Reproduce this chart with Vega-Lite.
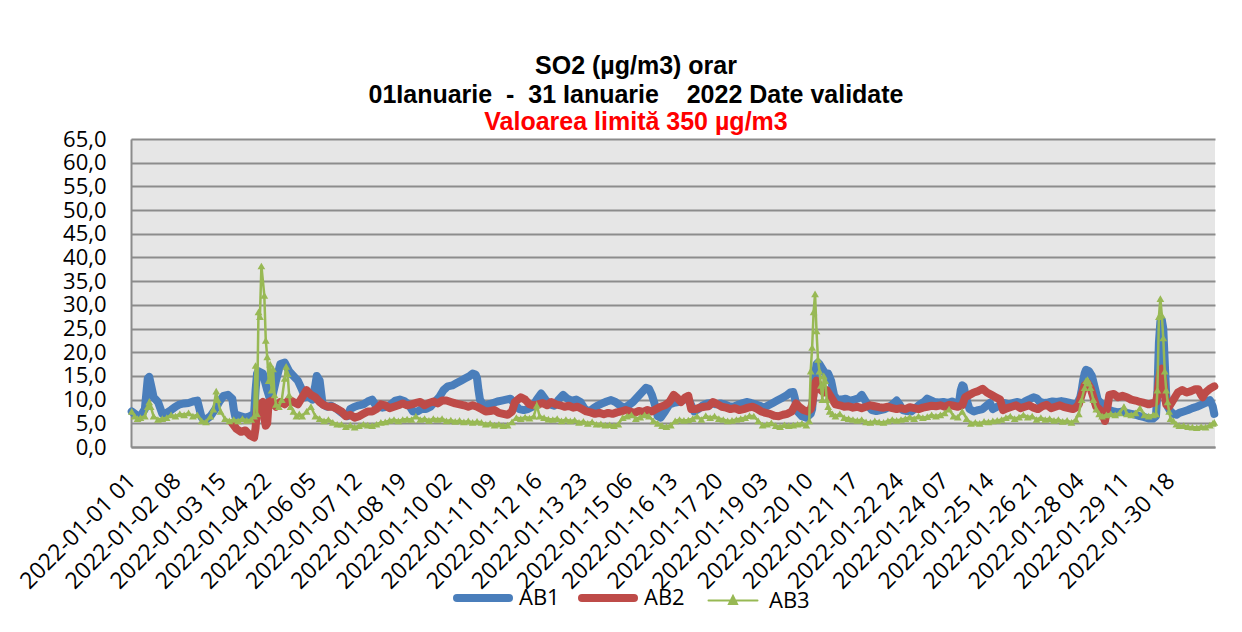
{
"$schema": "https://vega.github.io/schema/vega-lite/v6.json",
"width": 1084, "height": 308,
"autosize": {"type": "none"},
"padding": {"left": 131, "top": 139, "right": 27, "bottom": 185},
"background": "white",
"config": {"view": {"fill": "#E6E6E6", "stroke": null}, "font": "Open Sans"},
"title": {"text": ["SO2 (µg/m3) orar", "01Ianuarie\u00a0 -\u00a0 31 Ianuarie\u00a0\u00a0\u00a0 2022 Date validate"], "subtitle": "Valoarea limită 350 µg/m3", "font": "Liberation Sans", "fontSize": 25, "fontWeight": "bold", "color": "black", "lineHeight": 29, "subtitleFont": "Liberation Sans", "subtitleFontSize": 25, "subtitleFontWeight": "bold", "subtitleColor": "#FF0000", "subtitlePadding": 2, "anchor": "middle", "frame": "group", "dx": -37, "offset": -7},
"data": {"values": [
{"s":"AB1","h":1,"v":7.5},{"s":"AB1","h":4,"v":6.8},{"s":"AB1","h":7,"v":6.5},{"s":"AB1","h":10,"v":8},{"s":"AB1","h":12,"v":14.5},{"s":"AB1","h":13,"v":14.8},{"s":"AB1","h":15,"v":12},{"s":"AB1","h":16,"v":10.5},{"s":"AB1","h":19,"v":9.5},{"s":"AB1","h":22,"v":7},
{"s":"AB1","h":25,"v":7.2},{"s":"AB1","h":28,"v":7.8},{"s":"AB1","h":31,"v":8.5},{"s":"AB1","h":34,"v":9},{"s":"AB1","h":37,"v":9.2},{"s":"AB1","h":40,"v":9.3},{"s":"AB1","h":43,"v":9.6},{"s":"AB1","h":46,"v":9.8},
{"s":"AB1","h":49,"v":6.2},{"s":"AB1","h":52,"v":5.8},{"s":"AB1","h":55,"v":6.5},{"s":"AB1","h":58,"v":7.8},{"s":"AB1","h":61,"v":9.5},{"s":"AB1","h":64,"v":10.8},{"s":"AB1","h":67,"v":11},{"s":"AB1","h":70,"v":10.2},{"s":"AB1","h":71,"v":8},{"s":"AB1","h":72,"v":6.5},
{"s":"AB1","h":73,"v":6.8},{"s":"AB1","h":76,"v":6.5},{"s":"AB1","h":79,"v":6.2},{"s":"AB1","h":82,"v":6.5},{"s":"AB1","h":85,"v":7},{"s":"AB1","h":86,"v":12},{"s":"AB1","h":87,"v":15.5},{"s":"AB1","h":88,"v":16},{"s":"AB1","h":91,"v":15.5},{"s":"AB1","h":94,"v":12},{"s":"AB1","h":96,"v":10},
{"s":"AB1","h":97,"v":10},{"s":"AB1","h":100,"v":14},{"s":"AB1","h":103,"v":17.5},{"s":"AB1","h":106,"v":17.8},{"s":"AB1","h":109,"v":16},{"s":"AB1","h":112,"v":15},{"s":"AB1","h":115,"v":14},{"s":"AB1","h":118,"v":12},{"s":"AB1","h":120,"v":10.5},
{"s":"AB1","h":121,"v":11},{"s":"AB1","h":123,"v":10.5},{"s":"AB1","h":125,"v":10},{"s":"AB1","h":127,"v":13},{"s":"AB1","h":128,"v":15},{"s":"AB1","h":130,"v":14},{"s":"AB1","h":132,"v":9},{"s":"AB1","h":135,"v":8.5},{"s":"AB1","h":138,"v":8.7},{"s":"AB1","h":141,"v":8.2},{"s":"AB1","h":144,"v":7.5},
{"s":"AB1","h":147,"v":6.8},{"s":"AB1","h":149,"v":6.5},{"s":"AB1","h":151,"v":8},{"s":"AB1","h":154,"v":8.5},{"s":"AB1","h":157,"v":8.8},{"s":"AB1","h":160,"v":9},{"s":"AB1","h":163,"v":9.6},{"s":"AB1","h":166,"v":10},{"s":"AB1","h":168,"v":9},
{"s":"AB1","h":170,"v":8.5},{"s":"AB1","h":173,"v":8.3},{"s":"AB1","h":176,"v":8.5},{"s":"AB1","h":179,"v":9},{"s":"AB1","h":182,"v":9.8},{"s":"AB1","h":185,"v":10},{"s":"AB1","h":188,"v":9.7},{"s":"AB1","h":191,"v":9},
{"s":"AB1","h":194,"v":7.5},{"s":"AB1","h":197,"v":7.5},{"s":"AB1","h":200,"v":8},{"s":"AB1","h":203,"v":8},{"s":"AB1","h":206,"v":8.5},{"s":"AB1","h":209,"v":9.5},{"s":"AB1","h":212,"v":10.5},{"s":"AB1","h":215,"v":12},
{"s":"AB1","h":218,"v":12.8},{"s":"AB1","h":221,"v":13},{"s":"AB1","h":224,"v":13.5},{"s":"AB1","h":227,"v":14},{"s":"AB1","h":230,"v":14.5},{"s":"AB1","h":233,"v":15},{"s":"AB1","h":235,"v":15.5},{"s":"AB1","h":237,"v":15.3},{"s":"AB1","h":238,"v":14.5},{"s":"AB1","h":239,"v":12},{"s":"AB1","h":240,"v":10},
{"s":"AB1","h":243,"v":8.5},{"s":"AB1","h":246,"v":9},{"s":"AB1","h":249,"v":9.3},{"s":"AB1","h":252,"v":9.6},{"s":"AB1","h":255,"v":9.8},{"s":"AB1","h":258,"v":10},{"s":"AB1","h":261,"v":10.2},{"s":"AB1","h":264,"v":9},
{"s":"AB1","h":267,"v":8},{"s":"AB1","h":270,"v":7.8},{"s":"AB1","h":273,"v":8},{"s":"AB1","h":276,"v":8.5},{"s":"AB1","h":279,"v":10},{"s":"AB1","h":282,"v":11.3},{"s":"AB1","h":285,"v":10},{"s":"AB1","h":288,"v":9},
{"s":"AB1","h":291,"v":8.7},{"s":"AB1","h":294,"v":10},{"s":"AB1","h":297,"v":11},{"s":"AB1","h":300,"v":10.2},{"s":"AB1","h":303,"v":9.8},{"s":"AB1","h":306,"v":10},{"s":"AB1","h":309,"v":9.5},{"s":"AB1","h":312,"v":8},
{"s":"AB1","h":315,"v":7.5},{"s":"AB1","h":318,"v":8.2},{"s":"AB1","h":321,"v":8.8},{"s":"AB1","h":324,"v":9.2},{"s":"AB1","h":327,"v":9.6},{"s":"AB1","h":330,"v":9.9},{"s":"AB1","h":333,"v":9.5},{"s":"AB1","h":336,"v":8.8},
{"s":"AB1","h":339,"v":8.3},{"s":"AB1","h":342,"v":8.8},{"s":"AB1","h":345,"v":9.5},{"s":"AB1","h":348,"v":10.5},{"s":"AB1","h":351,"v":11.5},{"s":"AB1","h":354,"v":12.5},{"s":"AB1","h":356,"v":12.3},{"s":"AB1","h":358,"v":11},{"s":"AB1","h":360,"v":9},
{"s":"AB1","h":362,"v":6.5},{"s":"AB1","h":364,"v":6.2},{"s":"AB1","h":367,"v":7.5},{"s":"AB1","h":370,"v":9},{"s":"AB1","h":373,"v":9.3},{"s":"AB1","h":376,"v":9.5},{"s":"AB1","h":379,"v":9.8},{"s":"AB1","h":382,"v":10.3},{"s":"AB1","h":384,"v":9.5},
{"s":"AB1","h":387,"v":7.5},{"s":"AB1","h":390,"v":8},{"s":"AB1","h":393,"v":8.8},{"s":"AB1","h":396,"v":9.2},{"s":"AB1","h":399,"v":9.3},{"s":"AB1","h":402,"v":9},{"s":"AB1","h":405,"v":9.2},{"s":"AB1","h":408,"v":9},
{"s":"AB1","h":411,"v":8.6},{"s":"AB1","h":414,"v":8.5},{"s":"AB1","h":417,"v":8.9},{"s":"AB1","h":420,"v":9.2},{"s":"AB1","h":423,"v":9.5},{"s":"AB1","h":426,"v":9.3},{"s":"AB1","h":429,"v":9},{"s":"AB1","h":432,"v":8.7},
{"s":"AB1","h":435,"v":8.3},{"s":"AB1","h":438,"v":8.8},{"s":"AB1","h":441,"v":9.3},{"s":"AB1","h":444,"v":9.8},{"s":"AB1","h":447,"v":10.3},{"s":"AB1","h":450,"v":10.8},{"s":"AB1","h":453,"v":11.5},{"s":"AB1","h":455,"v":11.6},{"s":"AB1","h":456,"v":10.5},
{"s":"AB1","h":458,"v":7.5},{"s":"AB1","h":461,"v":6.5},{"s":"AB1","h":464,"v":6.2},{"s":"AB1","h":467,"v":7},{"s":"AB1","h":468,"v":8},{"s":"AB1","h":469,"v":12},{"s":"AB1","h":470,"v":15},{"s":"AB1","h":471,"v":17.5},{"s":"AB1","h":472,"v":17.8},{"s":"AB1","h":473,"v":17.5},{"s":"AB1","h":475,"v":16.5},{"s":"AB1","h":477,"v":15.5},{"s":"AB1","h":479,"v":15.5},{"s":"AB1","h":481,"v":14},
{"s":"AB1","h":483,"v":11},{"s":"AB1","h":485,"v":10},{"s":"AB1","h":488,"v":10},{"s":"AB1","h":491,"v":10.2},{"s":"AB1","h":494,"v":9.8},{"s":"AB1","h":497,"v":10},{"s":"AB1","h":500,"v":10.3},{"s":"AB1","h":502,"v":11},{"s":"AB1","h":504,"v":10},
{"s":"AB1","h":507,"v":8.5},{"s":"AB1","h":509,"v":7.8},{"s":"AB1","h":512,"v":7.6},{"s":"AB1","h":515,"v":7.8},{"s":"AB1","h":518,"v":8},{"s":"AB1","h":521,"v":8.5},{"s":"AB1","h":524,"v":9.2},{"s":"AB1","h":526,"v":9.8},{"s":"AB1","h":528,"v":9},
{"s":"AB1","h":530,"v":7.8},{"s":"AB1","h":533,"v":7.6},{"s":"AB1","h":536,"v":7.5},{"s":"AB1","h":539,"v":8.2},{"s":"AB1","h":542,"v":9},{"s":"AB1","h":545,"v":9.6},{"s":"AB1","h":547,"v":10.2},{"s":"AB1","h":550,"v":9.8},{"s":"AB1","h":552,"v":9.5},
{"s":"AB1","h":555,"v":9.4},{"s":"AB1","h":558,"v":9.5},{"s":"AB1","h":561,"v":9.3},{"s":"AB1","h":564,"v":9.6},{"s":"AB1","h":567,"v":9.2},{"s":"AB1","h":569,"v":9.8},{"s":"AB1","h":570,"v":12},{"s":"AB1","h":571,"v":13},{"s":"AB1","h":572,"v":12.8},{"s":"AB1","h":574,"v":10},{"s":"AB1","h":576,"v":8},
{"s":"AB1","h":579,"v":7.5},{"s":"AB1","h":582,"v":7.8},{"s":"AB1","h":585,"v":8},{"s":"AB1","h":588,"v":8.8},{"s":"AB1","h":590,"v":9.3},{"s":"AB1","h":592,"v":8},{"s":"AB1","h":595,"v":8.5},{"s":"AB1","h":598,"v":9},{"s":"AB1","h":600,"v":9.3},
{"s":"AB1","h":603,"v":9},{"s":"AB1","h":606,"v":9.3},{"s":"AB1","h":609,"v":9.5},{"s":"AB1","h":612,"v":9.2},{"s":"AB1","h":615,"v":9.8},{"s":"AB1","h":618,"v":10.2},{"s":"AB1","h":620,"v":10.5},{"s":"AB1","h":622,"v":10.3},{"s":"AB1","h":624,"v":9.6},
{"s":"AB1","h":627,"v":9.3},{"s":"AB1","h":630,"v":9.4},{"s":"AB1","h":633,"v":9.6},{"s":"AB1","h":636,"v":9.5},{"s":"AB1","h":639,"v":9.7},{"s":"AB1","h":642,"v":9.5},{"s":"AB1","h":645,"v":9.3},{"s":"AB1","h":648,"v":9},
{"s":"AB1","h":650,"v":9.2},{"s":"AB1","h":652,"v":10.5},{"s":"AB1","h":653,"v":12},{"s":"AB1","h":654,"v":14},{"s":"AB1","h":655,"v":15.5},{"s":"AB1","h":656,"v":16.3},{"s":"AB1","h":658,"v":16},{"s":"AB1","h":660,"v":15},{"s":"AB1","h":662,"v":12.5},{"s":"AB1","h":664,"v":10},{"s":"AB1","h":667,"v":9},{"s":"AB1","h":670,"v":8},{"s":"AB1","h":672,"v":7.8},
{"s":"AB1","h":675,"v":7.5},{"s":"AB1","h":678,"v":7.3},{"s":"AB1","h":681,"v":7.5},{"s":"AB1","h":684,"v":7.2},{"s":"AB1","h":687,"v":7},{"s":"AB1","h":690,"v":6.8},{"s":"AB1","h":693,"v":6.5},{"s":"AB1","h":696,"v":6.3},
{"s":"AB1","h":699,"v":6},{"s":"AB1","h":702,"v":6},{"s":"AB1","h":704,"v":6.5},{"s":"AB1","h":705,"v":12},{"s":"AB1","h":706,"v":22},{"s":"AB1","h":707,"v":26.5},{"s":"AB1","h":708,"v":26.8},{"s":"AB1","h":709,"v":25},{"s":"AB1","h":710,"v":18},{"s":"AB1","h":711,"v":11},{"s":"AB1","h":712,"v":8.5},{"s":"AB1","h":714,"v":7.5},{"s":"AB1","h":716,"v":7},{"s":"AB1","h":718,"v":6.8},{"s":"AB1","h":720,"v":7.2},
{"s":"AB1","h":723,"v":7.5},{"s":"AB1","h":726,"v":7.8},{"s":"AB1","h":729,"v":8.2},{"s":"AB1","h":732,"v":8.5},{"s":"AB1","h":735,"v":8.9},{"s":"AB1","h":738,"v":9.3},{"s":"AB1","h":741,"v":9.9},{"s":"AB1","h":743,"v":8.5},{"s":"AB1","h":744,"v":7},
{"s":"AB2","h":70,"v":5},{"s":"AB2","h":73,"v":3.8},{"s":"AB2","h":76,"v":3.2},{"s":"AB2","h":79,"v":3.5},{"s":"AB2","h":82,"v":2.5},{"s":"AB2","h":85,"v":2},{"s":"AB2","h":86,"v":4},{"s":"AB2","h":87,"v":8.5},{"s":"AB2","h":89,"v":9},{"s":"AB2","h":91,"v":9.5},{"s":"AB2","h":92,"v":6},{"s":"AB2","h":93,"v":4.5},{"s":"AB2","h":94,"v":5},{"s":"AB2","h":95,"v":9.5},{"s":"AB2","h":97,"v":9.8},
{"s":"AB2","h":100,"v":8.5},{"s":"AB2","h":103,"v":9.5},{"s":"AB2","h":106,"v":9},{"s":"AB2","h":109,"v":10},{"s":"AB2","h":112,"v":9.5},{"s":"AB2","h":115,"v":9},{"s":"AB2","h":118,"v":10.5},{"s":"AB2","h":121,"v":12},{"s":"AB2","h":124,"v":11},{"s":"AB2","h":127,"v":10.5},{"s":"AB2","h":130,"v":9.5},{"s":"AB2","h":133,"v":8.8},{"s":"AB2","h":136,"v":8.5},{"s":"AB2","h":139,"v":8.5},{"s":"AB2","h":142,"v":8},
{"s":"AB2","h":145,"v":7.5},{"s":"AB2","h":148,"v":6.5},{"s":"AB2","h":151,"v":6.8},{"s":"AB2","h":154,"v":6.2},{"s":"AB2","h":157,"v":6.5},{"s":"AB2","h":160,"v":7},{"s":"AB2","h":163,"v":7.5},{"s":"AB2","h":166,"v":7.5},{"s":"AB2","h":169,"v":8},{"s":"AB2","h":172,"v":9},{"s":"AB2","h":175,"v":8.8},{"s":"AB2","h":178,"v":8.2},{"s":"AB2","h":181,"v":8.5},{"s":"AB2","h":184,"v":8.8},{"s":"AB2","h":187,"v":9.2},{"s":"AB2","h":190,"v":8.8},
{"s":"AB2","h":193,"v":9},{"s":"AB2","h":196,"v":9.3},{"s":"AB2","h":199,"v":9.5},{"s":"AB2","h":202,"v":8.8},{"s":"AB2","h":205,"v":9.3},{"s":"AB2","h":208,"v":9.6},{"s":"AB2","h":211,"v":9.2},{"s":"AB2","h":214,"v":9.8},{"s":"AB2","h":217,"v":9.8},{"s":"AB2","h":220,"v":9.5},{"s":"AB2","h":223,"v":9.2},{"s":"AB2","h":226,"v":9},{"s":"AB2","h":229,"v":8.8},{"s":"AB2","h":232,"v":8.5},{"s":"AB2","h":235,"v":8.8},{"s":"AB2","h":238,"v":8.5},
{"s":"AB2","h":241,"v":8},{"s":"AB2","h":244,"v":7.5},{"s":"AB2","h":247,"v":7.6},{"s":"AB2","h":250,"v":7.8},{"s":"AB2","h":253,"v":7.2},{"s":"AB2","h":256,"v":7},{"s":"AB2","h":259,"v":6.8},{"s":"AB2","h":262,"v":7.5},{"s":"AB2","h":264,"v":9.5},{"s":"AB2","h":266,"v":10},{"s":"AB2","h":268,"v":10.5},{"s":"AB2","h":271,"v":10},{"s":"AB2","h":274,"v":9},{"s":"AB2","h":277,"v":8.8},{"s":"AB2","h":280,"v":9},{"s":"AB2","h":283,"v":9.3},{"s":"AB2","h":286,"v":8.8},
{"s":"AB2","h":289,"v":9.5},{"s":"AB2","h":292,"v":9},{"s":"AB2","h":295,"v":8.8},{"s":"AB2","h":298,"v":8.5},{"s":"AB2","h":301,"v":8.7},{"s":"AB2","h":304,"v":8.3},{"s":"AB2","h":307,"v":8.5},{"s":"AB2","h":310,"v":8},{"s":"AB2","h":313,"v":7.5},{"s":"AB2","h":316,"v":7.3},{"s":"AB2","h":319,"v":7},{"s":"AB2","h":322,"v":7.2},{"s":"AB2","h":325,"v":6.9},{"s":"AB2","h":328,"v":7.2},{"s":"AB2","h":331,"v":7},{"s":"AB2","h":334,"v":7.3},
{"s":"AB2","h":337,"v":7.5},{"s":"AB2","h":340,"v":7.8},{"s":"AB2","h":343,"v":7.5},{"s":"AB2","h":346,"v":7.2},{"s":"AB2","h":349,"v":7.6},{"s":"AB2","h":352,"v":7.4},{"s":"AB2","h":355,"v":7.8},{"s":"AB2","h":358,"v":7.5},{"s":"AB2","h":361,"v":8},{"s":"AB2","h":364,"v":8.5},{"s":"AB2","h":367,"v":8.8},{"s":"AB2","h":370,"v":9.5},{"s":"AB2","h":373,"v":11},{"s":"AB2","h":375,"v":10.5},{"s":"AB2","h":378,"v":9.5},{"s":"AB2","h":381,"v":10.5},{"s":"AB2","h":383,"v":10.8},
{"s":"AB2","h":385,"v":8},{"s":"AB2","h":388,"v":8},{"s":"AB2","h":391,"v":8.3},{"s":"AB2","h":394,"v":8.5},{"s":"AB2","h":397,"v":8.6},{"s":"AB2","h":400,"v":9.5},{"s":"AB2","h":403,"v":9},{"s":"AB2","h":406,"v":8.5},{"s":"AB2","h":409,"v":8.3},{"s":"AB2","h":412,"v":8},{"s":"AB2","h":415,"v":8.2},{"s":"AB2","h":418,"v":7.8},{"s":"AB2","h":421,"v":8},{"s":"AB2","h":424,"v":8.3},{"s":"AB2","h":427,"v":8.5},{"s":"AB2","h":430,"v":8.1},
{"s":"AB2","h":433,"v":7.5},{"s":"AB2","h":436,"v":7.2},{"s":"AB2","h":439,"v":7},{"s":"AB2","h":442,"v":6.6},{"s":"AB2","h":445,"v":6.5},{"s":"AB2","h":448,"v":6.8},{"s":"AB2","h":451,"v":7},{"s":"AB2","h":454,"v":7.5},{"s":"AB2","h":457,"v":9.2},{"s":"AB2","h":459,"v":8.5},{"s":"AB2","h":462,"v":7.8},{"s":"AB2","h":465,"v":7.5},{"s":"AB2","h":467,"v":8},{"s":"AB2","h":468,"v":9},{"s":"AB2","h":469,"v":11},{"s":"AB2","h":470,"v":13.5},{"s":"AB2","h":471,"v":14},{"s":"AB2","h":472,"v":13.5},{"s":"AB2","h":474,"v":12},{"s":"AB2","h":476,"v":11.5},{"s":"AB2","h":478,"v":12},{"s":"AB2","h":480,"v":11},
{"s":"AB2","h":482,"v":10},{"s":"AB2","h":484,"v":9},{"s":"AB2","h":487,"v":8.8},{"s":"AB2","h":490,"v":8.5},{"s":"AB2","h":493,"v":8.6},{"s":"AB2","h":496,"v":8.3},{"s":"AB2","h":499,"v":8.5},{"s":"AB2","h":502,"v":8.2},{"s":"AB2","h":505,"v":8.5},{"s":"AB2","h":508,"v":8.8},{"s":"AB2","h":511,"v":8.6},{"s":"AB2","h":514,"v":8.4},{"s":"AB2","h":517,"v":8.3},{"s":"AB2","h":520,"v":8.5},{"s":"AB2","h":523,"v":8.2},{"s":"AB2","h":526,"v":8},
{"s":"AB2","h":529,"v":8.2},{"s":"AB2","h":532,"v":8},{"s":"AB2","h":535,"v":8.4},{"s":"AB2","h":538,"v":8.2},{"s":"AB2","h":541,"v":8},{"s":"AB2","h":544,"v":8.3},{"s":"AB2","h":547,"v":8.5},{"s":"AB2","h":550,"v":8.7},{"s":"AB2","h":553,"v":8.6},{"s":"AB2","h":556,"v":8.8},{"s":"AB2","h":559,"v":8.5},{"s":"AB2","h":562,"v":8.9},{"s":"AB2","h":565,"v":8.7},{"s":"AB2","h":568,"v":8.5},{"s":"AB2","h":571,"v":8.8},{"s":"AB2","h":573,"v":10.5},{"s":"AB2","h":576,"v":11},
{"s":"AB2","h":579,"v":11.5},{"s":"AB2","h":582,"v":11.8},{"s":"AB2","h":585,"v":12.3},{"s":"AB2","h":588,"v":11.5},{"s":"AB2","h":591,"v":11},{"s":"AB2","h":594,"v":10.5},{"s":"AB2","h":597,"v":10},{"s":"AB2","h":599,"v":7.8},{"s":"AB2","h":602,"v":8.2},{"s":"AB2","h":605,"v":8.5},{"s":"AB2","h":608,"v":8.8},{"s":"AB2","h":611,"v":8.2},{"s":"AB2","h":614,"v":8.5},{"s":"AB2","h":617,"v":8.8},{"s":"AB2","h":620,"v":8.3},{"s":"AB2","h":623,"v":8},
{"s":"AB2","h":626,"v":8.6},{"s":"AB2","h":629,"v":8.9},{"s":"AB2","h":632,"v":8.2},{"s":"AB2","h":635,"v":8.5},{"s":"AB2","h":638,"v":8.8},{"s":"AB2","h":641,"v":8.4},{"s":"AB2","h":644,"v":8.2},{"s":"AB2","h":647,"v":8},{"s":"AB2","h":649,"v":8.3},{"s":"AB2","h":651,"v":9},{"s":"AB2","h":653,"v":11},{"s":"AB2","h":655,"v":13},{"s":"AB2","h":657,"v":13.5},{"s":"AB2","h":659,"v":12.5},{"s":"AB2","h":661,"v":10.5},{"s":"AB2","h":663,"v":8.5},{"s":"AB2","h":665,"v":8},{"s":"AB2","h":667,"v":7},{"s":"AB2","h":669,"v":5.5},{"s":"AB2","h":671,"v":9},{"s":"AB2","h":672,"v":11},
{"s":"AB2","h":675,"v":11.2},{"s":"AB2","h":678,"v":10.5},{"s":"AB2","h":681,"v":10.8},{"s":"AB2","h":684,"v":10.5},{"s":"AB2","h":687,"v":10},{"s":"AB2","h":690,"v":9.8},{"s":"AB2","h":693,"v":9.5},{"s":"AB2","h":696,"v":9.3},{"s":"AB2","h":699,"v":9},{"s":"AB2","h":702,"v":9.3},{"s":"AB2","h":704,"v":9.5},{"s":"AB2","h":705,"v":11},{"s":"AB2","h":706,"v":14},{"s":"AB2","h":707,"v":16},{"s":"AB2","h":708,"v":16.5},{"s":"AB2","h":709,"v":14},{"s":"AB2","h":710,"v":11},{"s":"AB2","h":711,"v":9},{"s":"AB2","h":713,"v":8.5},{"s":"AB2","h":715,"v":9.5},{"s":"AB2","h":717,"v":10.5},{"s":"AB2","h":719,"v":11.5},
{"s":"AB2","h":722,"v":12},{"s":"AB2","h":725,"v":11.5},{"s":"AB2","h":728,"v":11.8},{"s":"AB2","h":731,"v":12.2},{"s":"AB2","h":733,"v":12.2},{"s":"AB2","h":735,"v":11},{"s":"AB2","h":736,"v":10.5},{"s":"AB2","h":738,"v":11.5},{"s":"AB2","h":741,"v":12.3},{"s":"AB2","h":744,"v":12.8},
{"s":"AB3","h":1,"v":7.5},{"s":"AB3","h":3,"v":6.5},{"s":"AB3","h":5,"v":6},{"s":"AB3","h":7,"v":6.2},{"s":"AB3","h":10,"v":6.5},{"s":"AB3","h":12,"v":8.5},{"s":"AB3","h":13,"v":9.5},{"s":"AB3","h":14,"v":8.5},{"s":"AB3","h":16,"v":6.5},{"s":"AB3","h":19,"v":5.8},{"s":"AB3","h":22,"v":6},
{"s":"AB3","h":25,"v":6.2},{"s":"AB3","h":28,"v":6.8},{"s":"AB3","h":31,"v":6.5},{"s":"AB3","h":34,"v":7},{"s":"AB3","h":37,"v":6.8},{"s":"AB3","h":40,"v":7.2},{"s":"AB3","h":43,"v":6.5},{"s":"AB3","h":46,"v":6.8},
{"s":"AB3","h":49,"v":5.5},{"s":"AB3","h":52,"v":5.3},{"s":"AB3","h":55,"v":6.5},{"s":"AB3","h":57,"v":8},{"s":"AB3","h":59,"v":11.8},{"s":"AB3","h":60,"v":10},{"s":"AB3","h":62,"v":7.5},{"s":"AB3","h":65,"v":6},{"s":"AB3","h":68,"v":5.5},{"s":"AB3","h":71,"v":5.8},
{"s":"AB3","h":74,"v":5.5},{"s":"AB3","h":77,"v":6},{"s":"AB3","h":80,"v":5.6},{"s":"AB3","h":83,"v":5.8},{"s":"AB3","h":85,"v":6.5},{"s":"AB3","h":86,"v":17.2},{"s":"AB3","h":87,"v":7},{"s":"AB3","h":88,"v":28.5},{"s":"AB3","h":89,"v":27.5},{"s":"AB3","h":90,"v":38.2},{"s":"AB3","h":92,"v":32},{"s":"AB3","h":93,"v":22.5},{"s":"AB3","h":94,"v":19},{"s":"AB3","h":95,"v":14},{"s":"AB3","h":96,"v":17.5},
{"s":"AB3","h":97,"v":12},{"s":"AB3","h":98,"v":16.5},{"s":"AB3","h":99,"v":11},{"s":"AB3","h":100,"v":9},{"s":"AB3","h":102,"v":8.5},{"s":"AB3","h":104,"v":10},{"s":"AB3","h":106,"v":14.5},{"s":"AB3","h":107,"v":17},{"s":"AB3","h":108,"v":15.5},{"s":"AB3","h":109,"v":11},{"s":"AB3","h":110,"v":8.5},{"s":"AB3","h":112,"v":7.5},{"s":"AB3","h":114,"v":6.5},{"s":"AB3","h":116,"v":7},{"s":"AB3","h":118,"v":6.5},
{"s":"AB3","h":121,"v":7.5},{"s":"AB3","h":124,"v":8.5},{"s":"AB3","h":127,"v":6.5},{"s":"AB3","h":130,"v":6},{"s":"AB3","h":133,"v":5.5},{"s":"AB3","h":136,"v":5.8},{"s":"AB3","h":139,"v":5.2},{"s":"AB3","h":142,"v":4.8},
{"s":"AB3","h":145,"v":4.8},{"s":"AB3","h":148,"v":4.3},{"s":"AB3","h":151,"v":4.6},{"s":"AB3","h":154,"v":4.2},{"s":"AB3","h":157,"v":4.5},{"s":"AB3","h":160,"v":4.8},{"s":"AB3","h":163,"v":4.6},{"s":"AB3","h":166,"v":4.5},
{"s":"AB3","h":169,"v":4.8},{"s":"AB3","h":172,"v":5.2},{"s":"AB3","h":175,"v":5.3},{"s":"AB3","h":178,"v":5.6},{"s":"AB3","h":181,"v":5.8},{"s":"AB3","h":184,"v":5.5},{"s":"AB3","h":187,"v":5.8},{"s":"AB3","h":190,"v":5.9},
{"s":"AB3","h":193,"v":5.8},{"s":"AB3","h":196,"v":6.5},{"s":"AB3","h":199,"v":5.8},{"s":"AB3","h":202,"v":6},{"s":"AB3","h":205,"v":5.6},{"s":"AB3","h":208,"v":6},{"s":"AB3","h":211,"v":5.8},{"s":"AB3","h":214,"v":6},
{"s":"AB3","h":217,"v":5.5},{"s":"AB3","h":220,"v":5.7},{"s":"AB3","h":223,"v":5.4},{"s":"AB3","h":226,"v":5.6},{"s":"AB3","h":229,"v":5.3},{"s":"AB3","h":232,"v":5.5},{"s":"AB3","h":235,"v":5.2},{"s":"AB3","h":238,"v":5.4},
{"s":"AB3","h":241,"v":5.2},{"s":"AB3","h":244,"v":4.8},{"s":"AB3","h":247,"v":5},{"s":"AB3","h":250,"v":4.6},{"s":"AB3","h":253,"v":4.8},{"s":"AB3","h":256,"v":4.5},{"s":"AB3","h":259,"v":4.6},{"s":"AB3","h":262,"v":5.3},
{"s":"AB3","h":265,"v":6.2},{"s":"AB3","h":268,"v":6},{"s":"AB3","h":271,"v":6.3},{"s":"AB3","h":274,"v":6.1},{"s":"AB3","h":277,"v":6.5},{"s":"AB3","h":279,"v":8.8},{"s":"AB3","h":281,"v":6.5},{"s":"AB3","h":284,"v":6.2},{"s":"AB3","h":287,"v":5.9},
{"s":"AB3","h":290,"v":5.8},{"s":"AB3","h":293,"v":6},{"s":"AB3","h":296,"v":5.5},{"s":"AB3","h":299,"v":5.8},{"s":"AB3","h":302,"v":5.5},{"s":"AB3","h":305,"v":5.7},{"s":"AB3","h":308,"v":5.2},{"s":"AB3","h":311,"v":5.4},
{"s":"AB3","h":314,"v":5},{"s":"AB3","h":317,"v":5.3},{"s":"AB3","h":320,"v":4.8},{"s":"AB3","h":323,"v":4.9},{"s":"AB3","h":326,"v":4.6},{"s":"AB3","h":329,"v":4.7},{"s":"AB3","h":332,"v":4.5},{"s":"AB3","h":335,"v":4.8},
{"s":"AB3","h":338,"v":6.2},{"s":"AB3","h":341,"v":6.5},{"s":"AB3","h":344,"v":6.8},{"s":"AB3","h":347,"v":6},{"s":"AB3","h":350,"v":6.3},{"s":"AB3","h":353,"v":6.8},{"s":"AB3","h":356,"v":6.5},{"s":"AB3","h":359,"v":5.5},
{"s":"AB3","h":362,"v":5},{"s":"AB3","h":365,"v":4.5},{"s":"AB3","h":368,"v":4.3},{"s":"AB3","h":371,"v":4.6},{"s":"AB3","h":374,"v":5.5},{"s":"AB3","h":377,"v":5.8},{"s":"AB3","h":380,"v":5.6},{"s":"AB3","h":383,"v":5.7},
{"s":"AB3","h":386,"v":6},{"s":"AB3","h":389,"v":6.5},{"s":"AB3","h":392,"v":5.8},{"s":"AB3","h":395,"v":6.6},{"s":"AB3","h":398,"v":6.2},{"s":"AB3","h":401,"v":6.5},{"s":"AB3","h":404,"v":6},{"s":"AB3","h":407,"v":5.8},
{"s":"AB3","h":410,"v":5.5},{"s":"AB3","h":413,"v":5.6},{"s":"AB3","h":416,"v":5.8},{"s":"AB3","h":419,"v":6},{"s":"AB3","h":422,"v":6.2},{"s":"AB3","h":425,"v":6.6},{"s":"AB3","h":428,"v":6.5},{"s":"AB3","h":431,"v":5.5},
{"s":"AB3","h":434,"v":4.6},{"s":"AB3","h":437,"v":4.8},{"s":"AB3","h":440,"v":5.1},{"s":"AB3","h":443,"v":4.5},{"s":"AB3","h":446,"v":4.3},{"s":"AB3","h":449,"v":4.7},{"s":"AB3","h":452,"v":4.5},{"s":"AB3","h":455,"v":4.6},
{"s":"AB3","h":458,"v":4.8},{"s":"AB3","h":461,"v":5},{"s":"AB3","h":464,"v":4.6},{"s":"AB3","h":466,"v":5.5},{"s":"AB3","h":467,"v":16},{"s":"AB3","h":468,"v":21},{"s":"AB3","h":469,"v":28.5},{"s":"AB3","h":470,"v":32.3},{"s":"AB3","h":471,"v":24.5},{"s":"AB3","h":472,"v":18.5},{"s":"AB3","h":473,"v":16},{"s":"AB3","h":474,"v":13},{"s":"AB3","h":475,"v":10},{"s":"AB3","h":476,"v":15},{"s":"AB3","h":477,"v":14},{"s":"AB3","h":478,"v":10},{"s":"AB3","h":479,"v":8.5},{"s":"AB3","h":480,"v":7.5},
{"s":"AB3","h":482,"v":7},{"s":"AB3","h":484,"v":6.5},{"s":"AB3","h":487,"v":7},{"s":"AB3","h":490,"v":6.2},{"s":"AB3","h":493,"v":6},{"s":"AB3","h":496,"v":5.8},{"s":"AB3","h":499,"v":5.6},{"s":"AB3","h":502,"v":5.8},
{"s":"AB3","h":505,"v":5.3},{"s":"AB3","h":508,"v":5.2},{"s":"AB3","h":511,"v":5.5},{"s":"AB3","h":514,"v":5.3},{"s":"AB3","h":517,"v":5.2},{"s":"AB3","h":520,"v":5.5},{"s":"AB3","h":523,"v":5.8},{"s":"AB3","h":526,"v":5.6},
{"s":"AB3","h":529,"v":5.8},{"s":"AB3","h":532,"v":6},{"s":"AB3","h":535,"v":6.3},{"s":"AB3","h":538,"v":6},{"s":"AB3","h":541,"v":6.5},{"s":"AB3","h":544,"v":6.2},{"s":"AB3","h":547,"v":6.4},{"s":"AB3","h":550,"v":6.8},
{"s":"AB3","h":553,"v":6.5},{"s":"AB3","h":556,"v":6.8},{"s":"AB3","h":559,"v":7.2},{"s":"AB3","h":562,"v":8},{"s":"AB3","h":565,"v":6.5},{"s":"AB3","h":568,"v":6.3},{"s":"AB3","h":571,"v":7.5},{"s":"AB3","h":574,"v":6},
{"s":"AB3","h":577,"v":5},{"s":"AB3","h":580,"v":5.2},{"s":"AB3","h":583,"v":5},{"s":"AB3","h":586,"v":5.4},{"s":"AB3","h":589,"v":5.3},{"s":"AB3","h":592,"v":5.5},{"s":"AB3","h":595,"v":5.6},{"s":"AB3","h":598,"v":5.8},
{"s":"AB3","h":601,"v":6.2},{"s":"AB3","h":604,"v":6.5},{"s":"AB3","h":607,"v":6},{"s":"AB3","h":610,"v":6.3},{"s":"AB3","h":613,"v":6.8},{"s":"AB3","h":616,"v":6.3},{"s":"AB3","h":619,"v":6.5},{"s":"AB3","h":622,"v":5.8},
{"s":"AB3","h":625,"v":6.2},{"s":"AB3","h":628,"v":5.8},{"s":"AB3","h":631,"v":6},{"s":"AB3","h":634,"v":5.6},{"s":"AB3","h":637,"v":5.8},{"s":"AB3","h":640,"v":5.4},{"s":"AB3","h":643,"v":5.6},{"s":"AB3","h":646,"v":5.2},
{"s":"AB3","h":649,"v":5.8},{"s":"AB3","h":651,"v":7},{"s":"AB3","h":653,"v":10},{"s":"AB3","h":655,"v":12.5},{"s":"AB3","h":656,"v":14},{"s":"AB3","h":657,"v":14.2},{"s":"AB3","h":658,"v":13.5},{"s":"AB3","h":659,"v":12.5},{"s":"AB3","h":661,"v":10},{"s":"AB3","h":663,"v":8},{"s":"AB3","h":665,"v":7},{"s":"AB3","h":667,"v":6.5},{"s":"AB3","h":670,"v":6.8},
{"s":"AB3","h":673,"v":7},{"s":"AB3","h":676,"v":6.8},{"s":"AB3","h":679,"v":7.2},{"s":"AB3","h":682,"v":8.5},{"s":"AB3","h":684,"v":7},{"s":"AB3","h":687,"v":6.8},{"s":"AB3","h":690,"v":7.2},{"s":"AB3","h":693,"v":8.2},{"s":"AB3","h":696,"v":6.8},
{"s":"AB3","h":699,"v":6.5},{"s":"AB3","h":702,"v":6.8},{"s":"AB3","h":704,"v":7},{"s":"AB3","h":705,"v":12},{"s":"AB3","h":706,"v":27.5},{"s":"AB3","h":707,"v":31.3},{"s":"AB3","h":708,"v":27.8},{"s":"AB3","h":709,"v":23},{"s":"AB3","h":710,"v":16},{"s":"AB3","h":711,"v":12},{"s":"AB3","h":712,"v":9.5},{"s":"AB3","h":713,"v":7.5},{"s":"AB3","h":714,"v":6},{"s":"AB3","h":716,"v":5.5},{"s":"AB3","h":718,"v":4.8},{"s":"AB3","h":720,"v":4.5},
{"s":"AB3","h":723,"v":4.5},{"s":"AB3","h":726,"v":4.3},{"s":"AB3","h":729,"v":4.2},{"s":"AB3","h":732,"v":4.1},{"s":"AB3","h":735,"v":4.3},{"s":"AB3","h":738,"v":4.2},{"s":"AB3","h":741,"v":4.6},{"s":"AB3","h":743,"v":5},{"s":"AB3","h":744,"v":5.2}
]},
"encoding": {
  "x": {"field": "h", "type": "quantitative", "scale": {"domain": [0.5, 744.5], "nice": false, "zero": false},
    "axis": {"values": [1,32,63,94,125,156,187,218,249,280,311,342,373,404,435,466,497,528,559,590,621,652,683,714],
      "labelExpr": "['2022-01-01 01','2022-01-02 08','2022-01-03 15','2022-01-04 22','2022-01-06 05','2022-01-07 12','2022-01-08 19','2022-01-10 02','2022-01-11 09','2022-01-12 16','2022-01-13 23','2022-01-15 06','2022-01-16 13','2022-01-17 20','2022-01-19 03','2022-01-20 10','2022-01-21 17','2022-01-22 24','2022-01-24 07','2022-01-25 14','2022-01-26 21','2022-01-28 04','2022-01-29 11','2022-01-30 18'][(datum.value-1)/31]",
      "labelAngle": -45, "labelAlign": "right", "labelBaseline": "middle", "labelFont": "Open Sans", "labelFontSize": 23, "labelColor": "black", "labelPadding": 30,
      "ticks": false, "grid": false, "domainColor": "#8C8C8C", "domainWidth": 2, "title": null, "labelOverlap": false, "labelBound": false, "labelFlush": false}},
  "y": {"field": "v", "type": "quantitative", "scale": {"domain": [0, 65], "nice": false},
    "axis": {"values": [0,5,10,15,20,25,30,35,40,45,50,55,60,65], "labelExpr": "replace(format(datum.value, '.1f'), '.', ',')",
      "labelFont": "Open Sans", "labelFontSize": 22, "labelColor": "black", "labelPadding": 25, "ticks": false,
      "grid": true, "gridColor": "#8C8C8C", "gridWidth": 2, "domainColor": "#8C8C8C", "domainWidth": 2, "title": null, "labelOverlap": false, "labelFlush": false}},
  "color": {"field": "s", "type": "nominal", "scale": {"domain": ["AB1","AB2","AB3"], "range": ["#4A7EBB","#BE4B48","#98B954"]},
    "legend": {"orient": "none", "legendX": 341, "legendY": 448, "direction": "horizontal", "columns": 3, "gridAlign": "all", "title": null,
      "symbolType": "stroke", "symbolStrokeWidth": 8, "symbolOpacity": 1,
      "labelFont": "Open Sans", "labelFontSize": 22, "labelColor": "black", "labelOffset": 25, "columnPadding": 6,
      "encode": {"symbols": {"update": {
        "shape": {"signal": "datum.value === 'AB3' ? 'M-4.9,0L4.9,0M-0.8,0.7L0,-0.9L0.8,0.7Z' : 'M-5.2,0L5.2,0'"},
        "strokeWidth": {"signal": "datum.value === 'AB3' ? 2 : 8"},
        "fill": {"signal": "datum.value === 'AB3' ? '#98B954' : 'transparent'"},
        "strokeCap": {"value": "round"}}}}}}
},
"layer": [
  {"transform": [{"filter": "datum.s != 'AB3'"}], "mark": {"type": "line", "strokeWidth": 8, "strokeCap": "round", "strokeJoin": "round"}},
  {"transform": [{"filter": "datum.s == 'AB3'"}], "mark": {"type": "line", "strokeWidth": 2.5}},
  {"transform": [{"filter": "datum.s == 'AB3'"}], "mark": {"type": "point", "shape": "triangle-up", "filled": true, "size": 60, "opacity": 1}}
]
}
